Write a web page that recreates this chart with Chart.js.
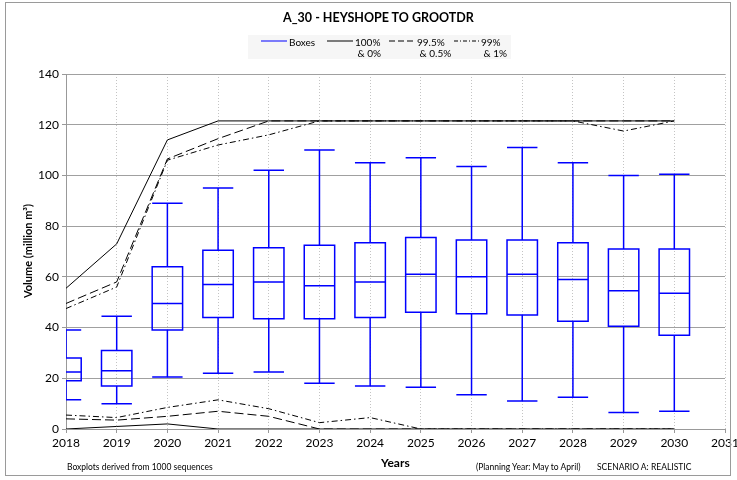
<!DOCTYPE html>
<html>
<head>
<meta charset="utf-8">
<script src="https://cdn.jsdelivr.net/npm/chart.js@4/dist/chart.umd.min.js"></script>
<style>
  html, body { margin: 0; padding: 0; background: #fff; }
  body { width: 737px; height: 480px; position: relative; overflow: hidden; font-family: Lato, "Open Sans", sans-serif; color: #000; }
  #frame { position: absolute; left: 5px; top: 2px; width: 726px; height: 474px; border: 1px solid #9a9a9a; box-sizing: border-box; }
  #wrap { position: absolute; left: 0; top: 0; width: 737px; height: 480px; }
  .t { position: absolute; white-space: nowrap; }
  #title { left: 0; width: 757px; top: 10px; text-align: center; font-weight: bold; font-size: 12.5px; }
  #legend { position: absolute; left: 248px; top: 35px; width: 263px; height: 24px; background: #f6f6f6; font-size: 10px; }
  #legend .it { position: absolute; top: 2px; line-height: 11px; }
  #legend svg { position: absolute; top: 4px; }
  #ytitle { left: 27px; top: 251px; transform: translate(-50%, -50%) rotate(-90deg); font-weight: bold; font-size: 11px; }
  #xtitle { left: 381px; top: 455px; font-weight: bold; font-size: 12px; }
  .foot { font-size: 8.5px; top: 462px; }
</style>
</head>
<body>
<div id="wrap"><canvas id="chart" width="737" height="480"></canvas></div>
<div id="frame"></div>
<div class="t" id="title">A_30 - HEYSHOPE TO GROOTDR</div>
<div id="legend">
  <svg style="left:13px" width="26" height="4"><line x1="0" y1="2" x2="26" y2="2" stroke="#0000ff" stroke-width="1"/></svg>
  <div class="it" style="left:41px">Boxes</div>
  <svg style="left:79px" width="26" height="4"><line x1="0" y1="2" x2="26" y2="2" stroke="#000" stroke-width="1"/></svg>
  <div class="it" style="left:107px">100%<br>&nbsp;&amp; 0%</div>
  <svg style="left:141px" width="27" height="4"><line x1="0" y1="2" x2="27" y2="2" stroke="#000" stroke-width="1" stroke-dasharray="6,3"/></svg>
  <div class="it" style="left:169px">99.5%<br>&nbsp;&amp; 0.5%</div>
  <svg style="left:206px" width="25" height="4"><line x1="0" y1="2" x2="25" y2="2" stroke="#000" stroke-width="1" stroke-dasharray="4,2,1,2"/></svg>
  <div class="it" style="left:233px">99%<br>&nbsp;&amp; 1%</div>
</div>
<div class="t" id="ytitle">Volume (million m³)</div>
<div class="t" id="xtitle">Years</div>
<div class="t foot" style="left:67px">Boxplots derived from 1000 sequences</div>
<div class="t foot" style="left:476px">(Planning Year: May to April)</div>
<div class="t foot" style="left:597px">SCENARIO A: REALISTIC</div>

<script>
// years on the x axis
const years = [2018, 2019, 2020, 2021, 2022, 2023, 2024, 2025, 2026, 2027, 2028, 2029, 2030];

// boxplot statistics (million m3)
const whiskerLow = [11.5, 10, 20.5, 22, 22.5, 18, 17, 16.5, 13.5, 11, 12.5, 6.5, 7];
const q1 = [19, 17, 39, 44, 43.5, 43.5, 44, 46, 45.5, 45, 42.5, 40.5, 37];
const median = [22.5, 23, 49.5, 57, 58, 56.5, 58, 61, 60, 61, 59, 54.5, 53.5];
const q3 = [28, 31, 64, 70.5, 71.5, 72.5, 73.5, 75.5, 74.5, 74.5, 73.5, 71, 71];
const whiskerHigh = [39, 44.5, 89, 95, 102, 110, 105, 107, 103.5, 111, 105, 100, 100.5];

// exceedance envelopes
const upper100 = [55.5, 73, 114, 121.5, 121.5, 121.5, 121.5, 121.5, 121.5, 121.5, 121.5, 121.5, 121.5];
const upper995 = [49.5, 58, 106.5, 114.5, 121.5, 121.5, 121.5, 121.5, 121.5, 121.5, 121.5, 121.5, 121.5];
const upper99 = [47.5, 56, 106, 112, 116, 121.5, 121.5, 121.5, 121.5, 121.5, 121.5, 117.5, 121.5];
const lower100 = [0, 1, 2, 0, 0, 0, 0, 0, 0, 0, 0, 0, 0];
const lower995 = [4, 3.5, 5, 7, 5, 0, 0, 0, 0, 0, 0, 0, 0];
const lower99 = [5.5, 4.5, 8.5, 11.5, 8, 2.5, 4.5, 0, 0, 0, 0, 0, 0];

const BOX_W = 0.6; // box width in years
const pts = arr => arr.map((v, i) => ({ x: years[i], y: v }));

const lineDs = (data, dash) => ({
  data: pts(data),
  borderColor: "#000",
  borderWidth: 1,
  borderDash: dash,
  pointRadius: 0,
  tension: 0,
  fill: false
});

const boxPlugin = {
  id: "boxes",
  afterDatasetsDraw(chart) {
    const { ctx, chartArea: a, scales: { x, y } } = chart;
    ctx.save();
    ctx.beginPath();
    ctx.rect(a.left, a.top, a.right - a.left, a.bottom - a.top);
    ctx.clip();
    ctx.strokeStyle = "#0000ff";
    ctx.lineWidth = 1.5;
    years.forEach((yr, i) => {
      const xl = x.getPixelForValue(yr - BOX_W / 2);
      const xr = x.getPixelForValue(yr + BOX_W / 2);
      const xc = x.getPixelForValue(yr);
      const yLo = y.getPixelForValue(whiskerLow[i]);
      const y1 = y.getPixelForValue(q1[i]);
      const yM = y.getPixelForValue(median[i]);
      const y3 = y.getPixelForValue(q3[i]);
      const yHi = y.getPixelForValue(whiskerHigh[i]);
      ctx.beginPath();
      ctx.rect(xl, y3, xr - xl, y1 - y3);
      ctx.moveTo(xl, yM); ctx.lineTo(xr, yM);
      ctx.moveTo(xc, y3); ctx.lineTo(xc, yHi);
      ctx.moveTo(xl, yHi); ctx.lineTo(xr, yHi);
      ctx.moveTo(xc, y1); ctx.lineTo(xc, yLo);
      ctx.moveTo(xl, yLo); ctx.lineTo(xr, yLo);
      ctx.stroke();
    });
    ctx.restore();
  }
};

const tickFont = { family: "Lato", size: 12 };

new Chart(document.getElementById("chart"), {
  type: "line",
  data: {
    datasets: [
      lineDs(upper100, []),
      lineDs(upper995, [9, 4]),
      lineDs(upper99, [6, 3, 1.5, 3]),
      lineDs(lower100, []),
      lineDs(lower995, [9, 4]),
      lineDs(lower99, [6, 3, 1.5, 3])
    ]
  },
  options: {
    responsive: false,
    animation: false,
    layout: { padding: { left: 0, top: 74, right: 12, bottom: 0 } },
    plugins: { legend: { display: false }, tooltip: { enabled: false }, title: { display: false } },
    scales: {
      x: {
        type: "linear",
        min: 2018,
        max: 2031,
        afterFit: s => { s.height = 51; s.paddingLeft = 0; s.paddingRight = 0; },
        ticks: { stepSize: 1, color: "#000", font: tickFont, padding: 3, maxRotation: 0, callback: v => String(v) },
        grid: { color: "#c4c4c4", tickLength: 4, tickColor: "#999" },
        border: { color: "#999", width: 1, dash: [1, 2] }
      },
      y: {
        min: 0,
        max: 140,
        afterFit: s => { s.width = 66; s.paddingTop = 0; s.paddingBottom = 0; },
        ticks: { stepSize: 20, color: "#000", font: tickFont, padding: 3 },
        grid: { color: "#a0a0a0", tickLength: 4, tickColor: "#999" },
        border: { color: "#999", width: 1 }
      }
    }
  },
  plugins: [boxPlugin]
});
</script>
</body>
</html>
